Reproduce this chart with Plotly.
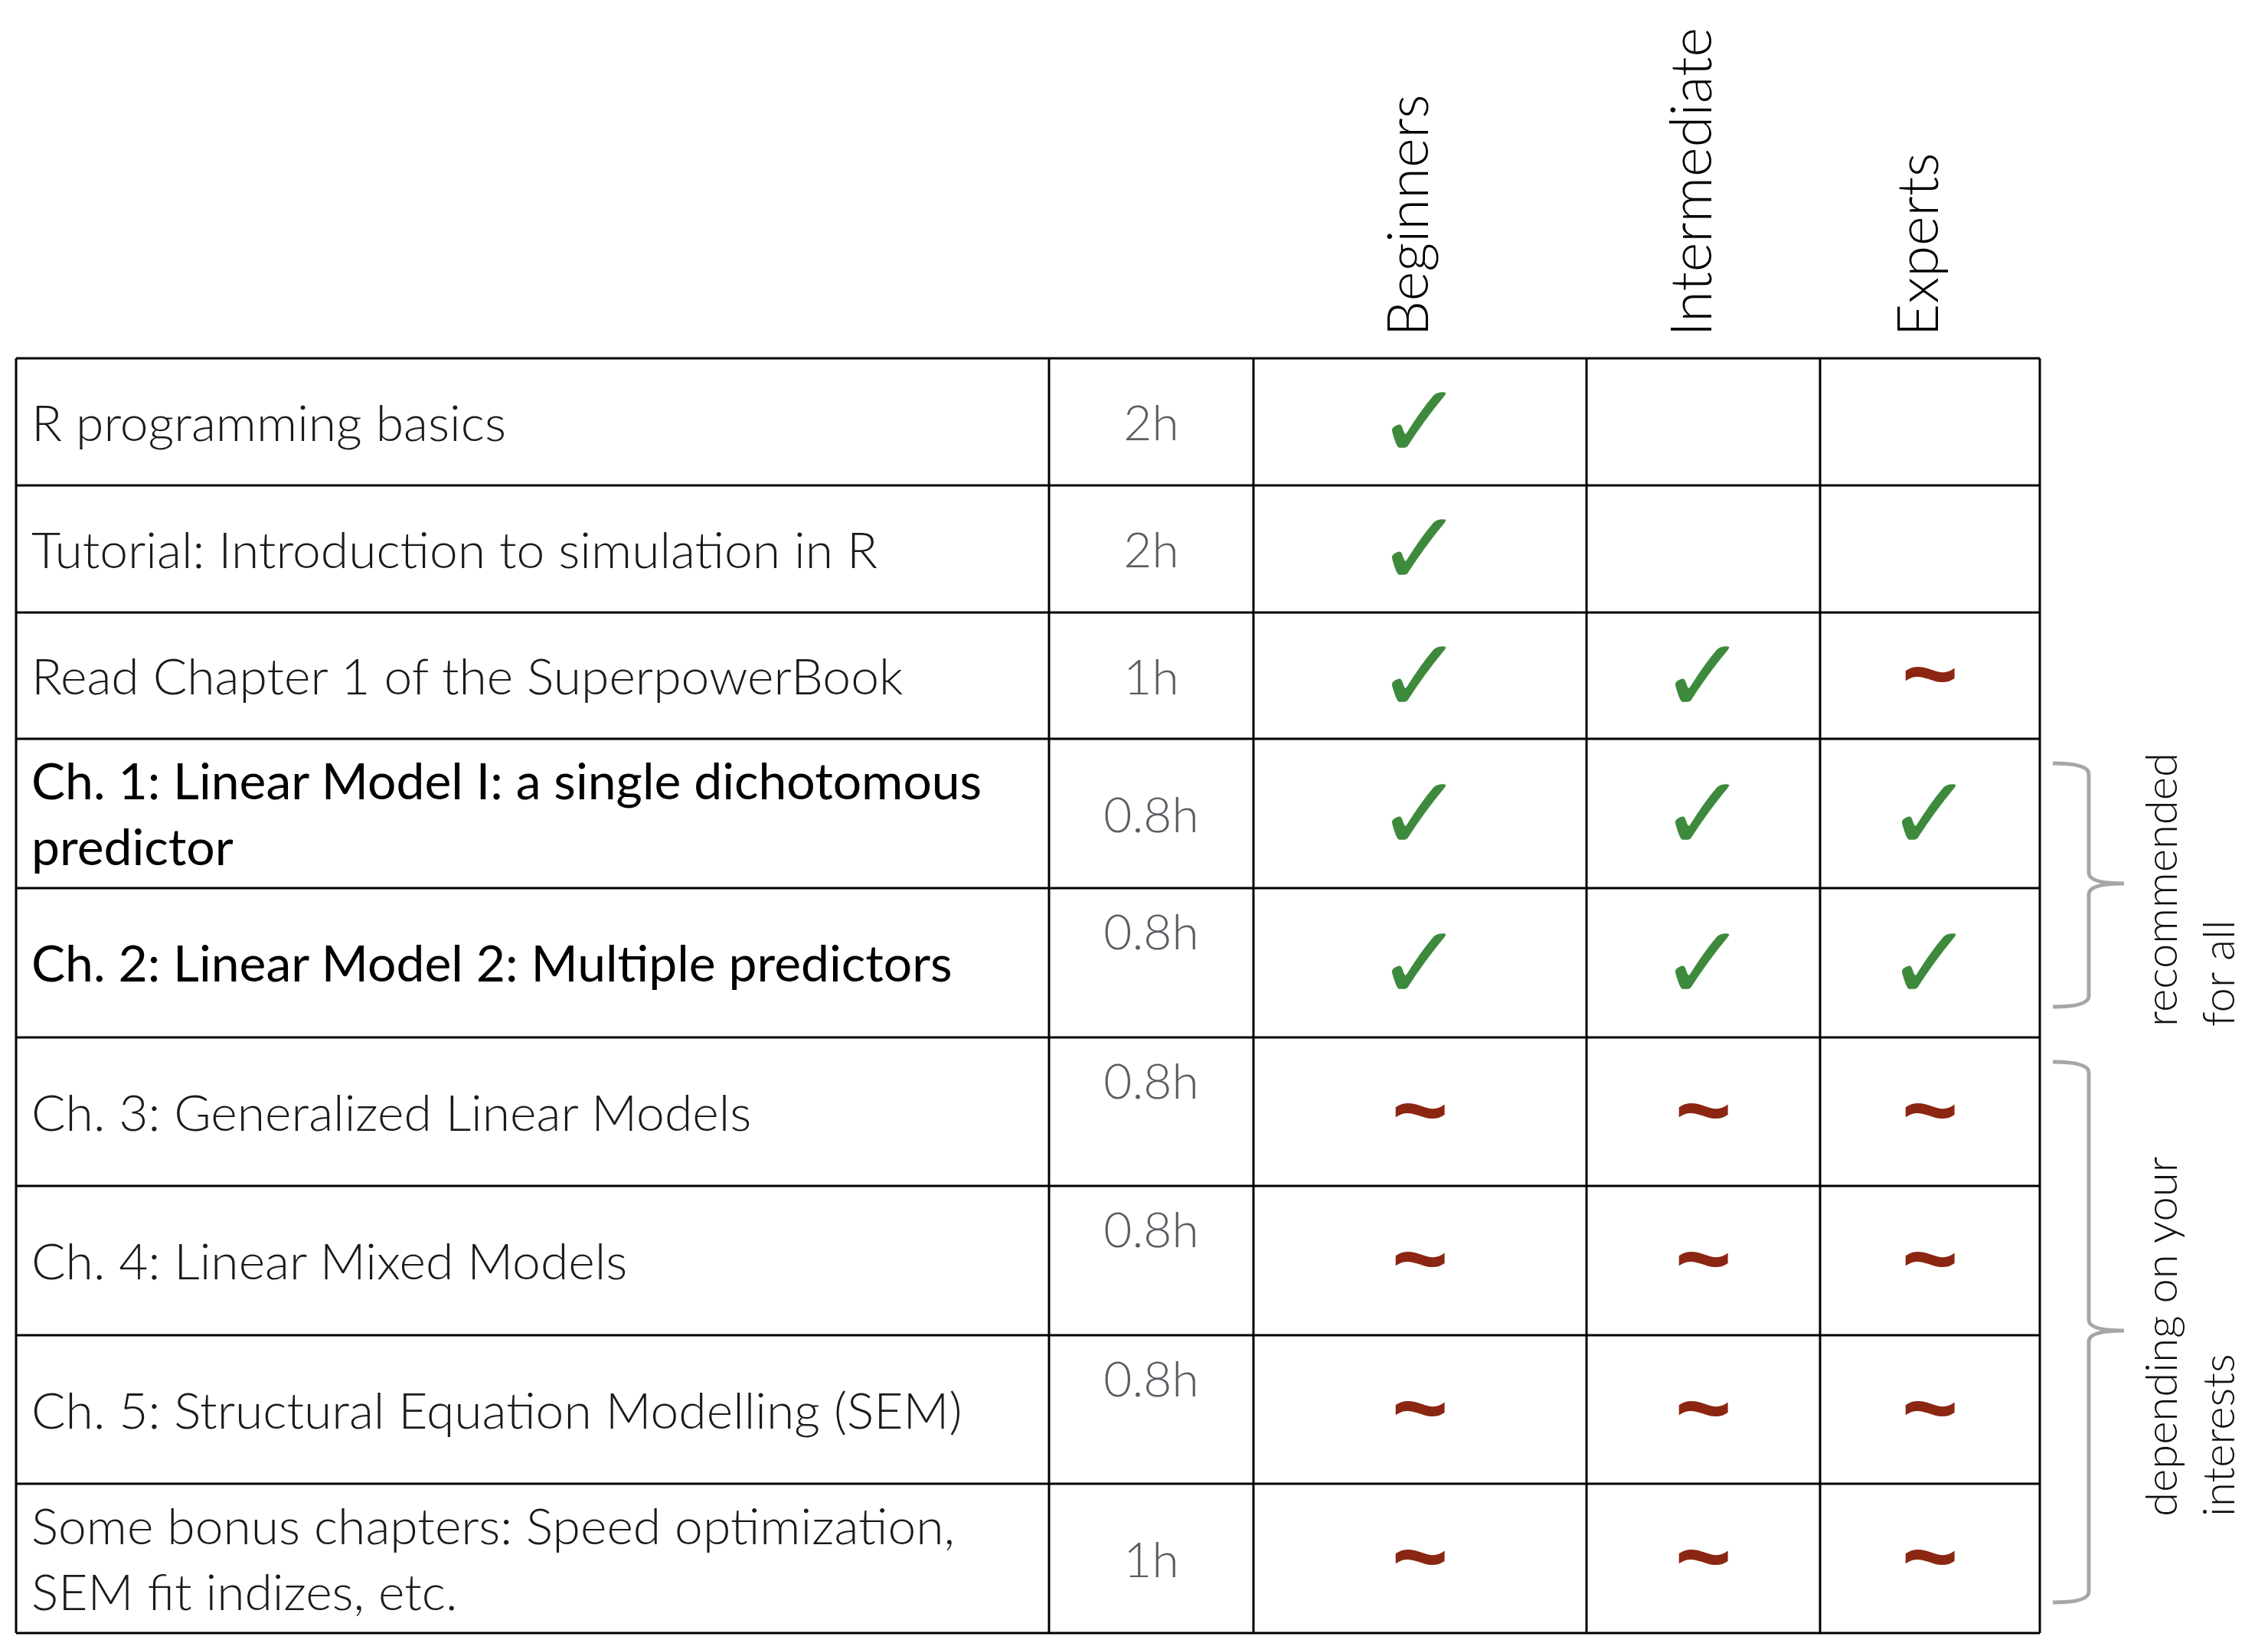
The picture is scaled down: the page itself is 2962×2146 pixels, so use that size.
import plotly.graph_objects as go

# table content
topics = [
    "R programming basics",
    "Tutorial: Introduction to simulation in R",
    "Read Chapter 1 of the SuperpowerBook",
    "Ch. 1: Linear Model I: a single dichotomous<br>predictor",
    "Ch. 2: Linear Model 2: Multiple predictors",
    "Ch. 3: Generalized Linear Models",
    "Ch. 4: Linear Mixed Models",
    "Ch. 5: Structural Equation Modelling (SEM)",
    "Some bonus chapters: Speed optimization,<br>SEM fit indizes, etc.",
]
hours = ["2h", "2h", "1h", "0.8h", "0.8h", "0.8h", "0.8h", "0.8h", "1h"]
levels = ["Beginners", "Intermediate", "Experts"]
beginners    = ["yes", "yes", "yes", "yes", "yes", "maybe", "maybe", "maybe", "maybe"]
intermediate = ["", "", "yes", "yes", "yes", "maybe", "maybe", "maybe", "maybe"]
experts      = ["", "", "maybe", "yes", "yes", "maybe", "maybe", "maybe", "maybe"]
emphasis = [False, False, False, True, True, False, False, False, False]
groups = ["recommended<br>for all", "depending on your<br>interests"]
group_rows = [(3, 4), (5, 8)]

# layout, in screen pixels (page body has an 8px margin)
W, H = 2962, 2146
PAD = 8
col_edges = [21, 1370, 1637, 2072, 2377, 2664]
row_edges = [468, 634, 800, 965, 1160, 1355, 1549, 1744, 1938, 2133]
hour_at_top = [False, False, False, False, True, True, True, True, False]
GREEN = "#3d8a3d"
RED = "#8b2612"
GREY = "#5a5d63"
BRACE = "#a6a6a6"
# glyph, colour, font, size, weight, vertical nudge
marks = {"yes": ("✓", GREEN, "DejaVu Sans", 136, "bold", 13),
         "maybe": ("~", RED, "Liberation Sans", 126, "bold", 9)}

row_mid = [(a + b) / 2 for a, b in zip(row_edges[:-1], row_edges[1:])]
col_mid = [(a + b) / 2 for a, b in zip(col_edges[:-1], col_edges[1:])]

fig = go.Figure()

# row labels
for strong in (False, True):
    idx = [i for i, e in enumerate(emphasis) if e == strong]
    fig.add_trace(go.Scatter(
        x=[col_edges[0] + 20] * len(idx), y=[row_mid[i] + 8 for i in idx],
        text=[topics[i] for i in idx], mode="text", textposition="middle right",
        textfont=dict(family="Lato", size=66, color="#000000" if strong else "#1a1a1a",
                      weight=400 if strong else 300),
        hoverinfo="skip", showlegend=False, cliponaxis=False))

# hours
hour_y = [row_edges[i] + 32 if top else row_mid[i] + 8 for i, top in enumerate(hour_at_top)]
for top in (False, True):
    idx = [i for i, t in enumerate(hour_at_top) if t == top]
    fig.add_trace(go.Scatter(
        x=[col_mid[1]] * len(idx), y=[hour_y[i] for i in idx],
        text=[hours[i] for i in idx], mode="text",
        textposition="bottom center" if top else "middle center",
        textfont=dict(family="Lato", size=64, color=GREY, weight=300),
        hoverinfo="skip", showlegend=False, cliponaxis=False))

# checks and tildes
for kind, (glyph, color, family, size, weight, dy) in marks.items():
    xs, ys = [], []
    for c, vals in enumerate([beginners, intermediate, experts]):
        for i, v in enumerate(vals):
            if v == kind:
                xs.append(col_mid[c + 2])
                ys.append(row_mid[i] + dy)
    fig.add_trace(go.Scatter(
        x=xs, y=ys, text=[glyph] * len(xs), mode="text", textposition="middle center",
        textfont=dict(family=family, size=size, color=color, weight=weight),
        hoverinfo="skip", showlegend=False, cliponaxis=False))

shapes = []
# table lines
for y in row_edges:
    shapes.append(dict(type="line", x0=col_edges[0], x1=col_edges[-1], y0=y, y1=y,
                       line=dict(color="black", width=3)))
for x in col_edges:
    shapes.append(dict(type="line", x0=x, x1=x, y0=row_edges[0], y1=row_edges[-1],
                       line=dict(color="black", width=3)))

# braces
annotations = []
bx0, bx1, bx2, r = col_edges[-1] + 17, col_edges[-1] + 64, col_edges[-1] + 110, 14
for label, (ra, rb) in zip(groups, group_rows):
    top = row_edges[ra] + 32
    bot = row_edges[rb + 1] - 40
    mid = (row_edges[ra] + row_edges[rb + 1]) / 2 - 6
    path = (f"M {bx0},{top} Q {bx1},{top} {bx1},{top + r} L {bx1},{mid - r} "
            f"Q {bx1},{mid} {bx2},{mid} Q {bx1},{mid} {bx1},{mid + r} "
            f"L {bx1},{bot - r} Q {bx1},{bot} {bx0},{bot}")
    shapes.append(dict(type="path", path=path, line=dict(color=BRACE, width=5)))
    annotations.append(dict(
        x=2858, y=mid + 8, xref="x", yref="y", text=label, showarrow=False,
        textangle=-90, xanchor="center", yanchor="middle", align="left",
        font=dict(family="Lato", size=58, color="#111111", weight=300)))

# column headers
for c, name in enumerate(levels):
    annotations.append(dict(
        x=col_mid[c + 2] - 19, y=row_edges[0] - 26, xref="x", yref="y", text=name,
        showarrow=False, textangle=-90, xanchor="center", yanchor="bottom",
        font=dict(family="Lato", size=74, color="black", weight=300)))

fig.update_layout(
    width=W - 2 * PAD, height=H - 2 * PAD, margin=dict(l=0, r=0, t=0, b=0),
    paper_bgcolor="white", plot_bgcolor="white",
    xaxis=dict(range=[PAD, W - PAD], visible=False, fixedrange=True),
    yaxis=dict(range=[H - PAD, PAD], visible=False, fixedrange=True),
    shapes=shapes, annotations=annotations,
)

fig.write_html("out.html")
